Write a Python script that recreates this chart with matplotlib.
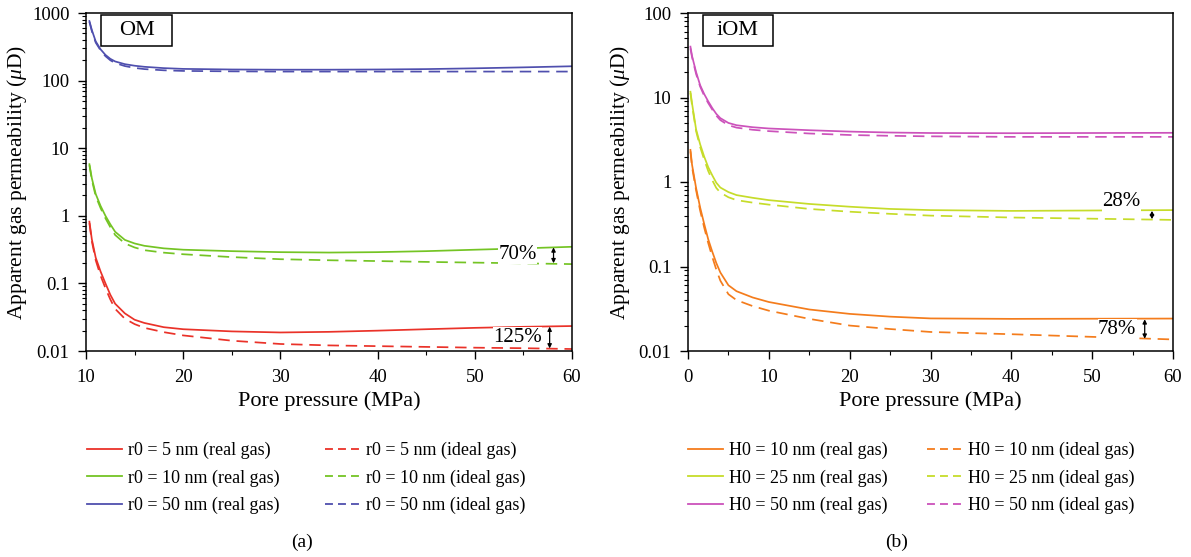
import matplotlib
matplotlib.use("Agg")
import matplotlib.pyplot as plt
from matplotlib.patches import Rectangle
from matplotlib.lines import Line2D
from matplotlib.ticker import LogLocator, NullFormatter, MultipleLocator, FixedLocator, FixedFormatter

plt.rcParams['font.family'] = ['Liberation Serif', 'DejaVu Serif']
plt.rcParams['mathtext.fontset'] = 'custom'
plt.rcParams['mathtext.it'] = 'Liberation Serif:italic'
plt.rcParams['mathtext.rm'] = 'Liberation Serif'

# ---- (a) organic matter (OM) pores ----
p_om = [10.35, 10.6, 11, 11.5, 12, 12.5, 13, 14, 15, 16, 18, 20, 25, 30, 35, 40, 45, 50, 55, 60]
om_r5_real = [0.82, 0.45, 0.24, 0.15, 0.10, 0.068, 0.050, 0.036, 0.029, 0.026, 0.0225, 0.021, 0.0195, 0.0188, 0.0192, 0.020, 0.021, 0.022, 0.0228, 0.0234]
om_r5_ideal = [0.78, 0.42, 0.22, 0.13, 0.085, 0.058, 0.042, 0.030, 0.025, 0.022, 0.019, 0.017, 0.0142, 0.0127, 0.0121, 0.0118, 0.0115, 0.0112, 0.011, 0.0107]
om_r10_real = [5.8, 3.6, 2.1, 1.4, 1.0, 0.75, 0.58, 0.44, 0.39, 0.36, 0.33, 0.315, 0.30, 0.29, 0.286, 0.29, 0.30, 0.315, 0.33, 0.348]
om_r10_ideal = [5.6, 3.4, 1.95, 1.3, 0.92, 0.68, 0.52, 0.39, 0.34, 0.31, 0.285, 0.27, 0.245, 0.228, 0.22, 0.214, 0.208, 0.203, 0.198, 0.193]
om_r50_real = [760, 560, 380, 290, 240, 210, 192, 175, 166, 160, 153, 149, 146, 145, 145, 146, 148, 152, 157, 163]
om_r50_ideal = [740, 540, 365, 280, 230, 200, 182, 164, 154, 148, 142, 139, 137, 136, 136, 136, 136, 136, 136, 136]

# ---- (b) inorganic matter (iOM) slit pores ----
p_iom = [0.3, 0.5, 1, 1.5, 2, 2.5, 3, 3.5, 4, 5, 6, 8, 10, 15, 20, 25, 30, 40, 50, 60]
iom_h10_real = [2.4, 1.6, 0.85, 0.50, 0.32, 0.21, 0.15, 0.11, 0.085, 0.060, 0.051, 0.043, 0.038, 0.031, 0.0275, 0.0255, 0.0243, 0.0240, 0.0241, 0.0242]
iom_h10_ideal = [2.3, 1.5, 0.80, 0.46, 0.29, 0.19, 0.13, 0.092, 0.068, 0.047, 0.040, 0.034, 0.030, 0.024, 0.020, 0.0182, 0.0168, 0.0158, 0.0147, 0.0137]
iom_h25_real = [11.7, 8.5, 4.2, 2.8, 2.0, 1.5, 1.2, 0.98, 0.86, 0.76, 0.70, 0.65, 0.61, 0.55, 0.51, 0.48, 0.465, 0.455, 0.46, 0.465]
iom_h25_ideal = [11.3, 8.1, 4.0, 2.6, 1.85, 1.35, 1.05, 0.85, 0.75, 0.66, 0.61, 0.57, 0.54, 0.48, 0.445, 0.42, 0.40, 0.38, 0.368, 0.356]
iom_h50_real = [40, 31, 20, 14, 11, 9.0, 7.5, 6.4, 5.7, 5.0, 4.7, 4.45, 4.3, 4.1, 3.95, 3.85, 3.8, 3.78, 3.8, 3.82]
iom_h50_ideal = [38, 30, 19, 13.5, 10.5, 8.6, 7.2, 6.1, 5.4, 4.7, 4.4, 4.15, 4.0, 3.75, 3.6, 3.52, 3.47, 3.42, 3.42, 3.42]

om_labels = ["r0 = 5 nm", "r0 = 10 nm", "r0 = 50 nm"]
iom_labels = ["H0 = 10 nm", "H0 = 25 nm", "H0 = 50 nm"]
om_colors = ["#ea3229", "#74c424", "#4f4fae"]
iom_colors = ["#f47c1c", "#c6dc2a", "#cc52bb"]

DASH = (0, (6.6, 3.9))
DASH_LEG = (0, (4.4, 2.8))
LW = 1.25

fig = plt.figure(figsize=(11.91, 5.57), dpi=100)
axL = fig.add_axes([86 / 1191, 206 / 557, 486 / 1191, 338 / 557])
axR = fig.add_axes([688 / 1191, 206 / 557, 485 / 1191, 338 / 557])

om_series = [(om_r5_real, om_r5_ideal), (om_r10_real, om_r10_ideal), (om_r50_real, om_r50_ideal)]
iom_series = [(iom_h10_real, iom_h10_ideal), (iom_h25_real, iom_h25_ideal), (iom_h50_real, iom_h50_ideal)]

for (real, ideal), c in zip(om_series, om_colors):
    axL.plot(p_om, real, color=c, lw=LW)
    axL.plot(p_om, ideal, color=c, lw=LW, ls=DASH)
for (real, ideal), c in zip(iom_series, iom_colors):
    axR.plot(p_iom, real, color=c, lw=LW)
    axR.plot(p_iom, ideal, color=c, lw=LW, ls=DASH)

def style(ax, xlim, ylim, xticks, yticks, ylabels, label_x):
    ax.set_yscale('log')
    ax.set_xlim(*xlim)
    ax.set_ylim(*ylim)
    ax.xaxis.set_major_locator(FixedLocator(xticks))
    ax.xaxis.set_minor_locator(MultipleLocator(5))
    ax.yaxis.set_major_locator(FixedLocator(yticks))
    ax.yaxis.set_major_formatter(FixedFormatter(ylabels))
    ax.yaxis.set_minor_locator(LogLocator(base=10, subs=range(2, 10)))
    ax.yaxis.set_minor_formatter(NullFormatter())
    ax.tick_params(which='major', direction='out', length=5.8, width=1, labelsize=13.5,
                   top=False, right=False)
    ax.tick_params(axis='x', which='major', pad=7)
    ax.tick_params(axis='y', which='major', pad=6)
    ax.tick_params(which='minor', direction='out', length=3, width=0.8,
                   top=False, right=False)
    for s in ax.spines.values():
        s.set_linewidth(1.1)
    ax.set_xlabel("Pore pressure (MPa)", fontsize=16)
    ax.xaxis.set_label_coords(0.5, -0.118)
    ax.set_ylabel(r"Apparent gas permeability ($\mu$D)", fontsize=15.5)
    ax.yaxis.set_label_coords(label_x, 0.5)

style(axL, (10, 60), (0.01, 1000), [10, 20, 30, 40, 50, 60],
      [0.01, 0.1, 1, 10, 100, 1000], ["0.01", "0.1", "1", "10", "100", "1000"], -0.117)
style(axR, (0, 60), (0.01, 100), [0, 10, 20, 30, 40, 50, 60],
      [0.01, 0.1, 1, 10, 100], ["0.01", "0.1", "1", "10", "100"], -0.115)

# panel tags
for ax, x0, w, tag in [(axL, 0.031, 0.146, "OM"), (axR, 0.031, 0.144, "iOM")]:
    ax.add_patch(Rectangle((x0, 0.902), w, 0.092, transform=ax.transAxes,
                           fill=True, facecolor='white', edgecolor='black', lw=1.1, zorder=5))
    ax.text(x0 + w / 2, 0.948, tag, transform=ax.transAxes, ha='center', va='center',
            fontsize=16, zorder=6)

# relative difference markers between real and ideal gas at high pressure
def marker(ax, x, y0, y1, tx, ty, txt):
    ax.annotate("", xy=(x, y0), xytext=(x, y1),
                arrowprops=dict(arrowstyle='<|-|>', color='black', lw=0.9,
                                shrinkA=0, shrinkB=0, mutation_scale=6))
    ax.text(tx, ty, txt, ha='center', va='center', fontsize=15,
            bbox=dict(facecolor='white', edgecolor='none', pad=0.3))

marker(axL, 58.1, om_r10_real[-1] * 0.98, om_r10_ideal[-1] * 1.03, 54.4, 0.27, "70%")
marker(axL, 57.7, om_r5_real[-1] * 0.98, om_r5_ideal[-1] * 1.02, 54.4, 0.0161, "125%")
marker(axR, 57.4, iom_h25_real[-1] * 0.98, iom_h25_ideal[-1] * 1.02, 53.6, 0.585, "28%")
marker(axR, 56.5, iom_h10_real[-1] * 0.98, iom_h10_ideal[-1] * 1.02, 53.1, 0.0182, "78%")

# legends: one column per gas model
def legend_column(labels, colors, suffix, ls, x_px):
    handles = [Line2D([], [], color=c, lw=1.3, ls=ls) for c in colors]
    texts = [f"{lab} ({suffix})" for lab in labels]
    fig.legend(handles, texts, loc='upper left', bbox_to_anchor=(x_px / 1191, 1 - 442 / 557),
               frameon=False, fontsize=13, handlelength=1.95, handletextpad=0.33,
               labelspacing=0.56, borderpad=0, borderaxespad=0)

legend_column(om_labels, om_colors, "real gas", '-', 87)
legend_column(om_labels, om_colors, "ideal gas", DASH_LEG, 325)
legend_column(iom_labels, iom_colors, "real gas", '-', 688)
legend_column(iom_labels, iom_colors, "ideal gas", DASH_LEG, 927)

fig.text(302 / 1191, 1 - 542 / 557, "(a)", ha='center', va='center', fontsize=14)
fig.text(897 / 1191, 1 - 542 / 557, "(b)", ha='center', va='center', fontsize=14)

fig.savefig("out.png", dpi=100)
